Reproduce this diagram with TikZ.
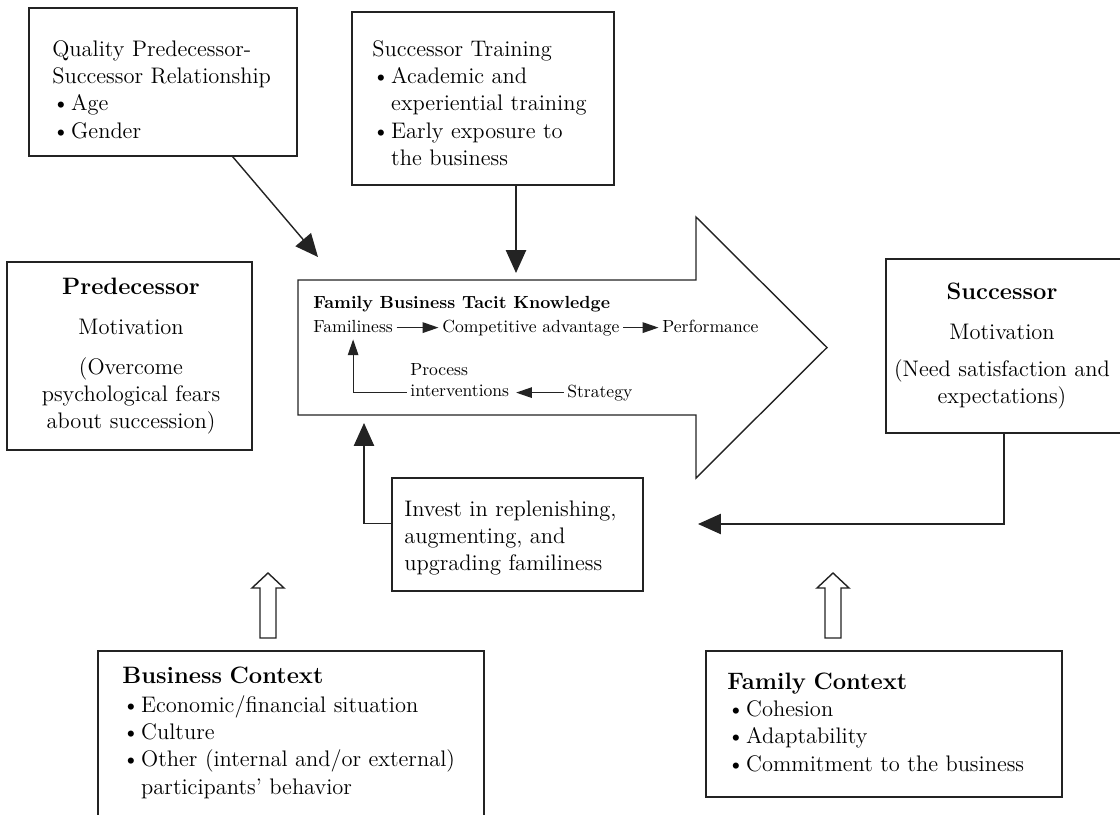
\documentclass[tikz,border=0pt]{standalone}
\usepackage{fontspec}
\usepackage{tikz}
\usetikzlibrary{arrows.meta,fit}
\definecolor{linegray}{RGB}{35,35,35}
\newcommand{\bodyfont}{\fontsize{12.8}{15.6}\selectfont}
\newcommand{\headfont}{\fontsize{13.5}{15.6}\selectfont\bfseries}
\newcommand{\smallfont}{\fontsize{10}{12.4}\selectfont}
\newcommand{\bulitem}{\makebox[0.84em][l]{\textbullet}}
\newcommand{\bulgap}{\hspace*{0.84em}}

\tikzset{
  box/.style={draw=linegray, line width=0.9pt, inner sep=0pt},
  txt/.style={font=\bodyfont, anchor=base west, inner sep=0pt, text width=7cm, align=left},
  ctxt/.style={font=\bodyfont, anchor=base, inner sep=0pt, text width=4.6cm, align=center},
  small/.style={font=\smallfont, anchor=base west, inner sep=2pt, text height=7pt, text depth=2pt},
  link/.style={draw=linegray, line width=0.8pt, -{Triangle[length=13pt,width=11.5pt]}},
  slink/.style={draw=linegray, line width=0.7pt, -{Triangle[length=9pt,width=6pt]}},
  hollow/.style={draw=linegray, line width=0.8pt, fill=white}
}

\begin{document}
\begin{tikzpicture}[x=0.02cm, y=-0.02cm]
\useasboundingbox (0,0) rectangle (1120,815);

% TOP BOXES
\node[box, fit={(29,8) (297,156)}] (qual) {};
\node[txt] (qualtxt) at (52,56) {Quality Predecessor-\\Successor Relationship\\\bulitem Age\\\bulitem Gender};

\node[box, fit={(352,12) (614,185)}] (train) {};
\node[txt] (traintxt) at (372,56) {Successor Training\\\bulitem Academic and\\\bulgap experiential training\\\bulitem Early exposure to\\\bulgap the business};

% SIDE BOXES
\node[box, fit={(7,262) (252,450)}] (pred) {};
\node[ctxt] (predtxt) at (131,294) {{\headfont Predecessor}\\[7.4pt]Motivation\\[7pt](Overcome\\psychological fears\\about succession)};

\node[box, fit={(886,259) (1122,433)}] (succ) {};
\node[ctxt] (succtxt) at (1002,299) {{\headfont Successor}\\[7.4pt]Motivation\\[5.5pt](Need satisfaction and\\expectations)};

% BIG ARROW
\draw[hollow] (298,280) -- (696,280) -- (696,217) -- (827,347.5) -- (696,478) -- (696,415) -- (298,415) -- cycle;

\node[small, font=\smallfont\bfseries] (tacit) at (309.5,308) {Family Business Tacit Knowledge};
\node[small] (fam) at (309.5,332) {Familiness};
\node[small] (comp) at (438.5,332) {Competitive advantage};
\node[small] (perf) at (658.5,332) {Performance};
\node[font=\smallfont, anchor=base west, inner sep=2pt, text width=58pt, align=left] (proc) at (406.5,375) {Process\\interventions};
\node[small] (strat) at (563.5,397) {Strategy};

\draw[slink] (fam.east) -- (comp.west);
\draw[slink] (comp.east) -- (perf.west);
\draw[slink] (strat.west) -- (strat.west -| proc.east);
\draw[slink] (proc.west |- strat.west) -| (fam.south);

% BOTTOM BOXES
\node[box, fit={(392,478) (643,591)}] (invest) {};
\node[txt] (investtxt) at (404,516) {Invest in replenishing,\\augmenting, and\\upgrading familiness};

\node[box, fit={(98,651) (484,830)}] (busi) {};
\node[txt] (busitxt) at (122,683) {{\headfont Business Context}\\[1pt]\bulitem Economic/financial situation\\\bulitem Culture\\\bulitem Other (internal and/or external)\\\bulgap participants' behavior};

\node[box, fit={(706,651) (1062,797)}] (fami) {};
\node[txt] (famitxt) at (727,689) {{\headfont Family Context}\\\bulitem Cohesion\\\bulitem Adaptability\\\bulitem Commitment to the business};

% HOLLOW ARROWS
\draw[hollow] (268,573) -- (284,588) -- (276,588) -- (276,638) -- (260,638) -- (260,588) -- (252,588) -- cycle;
\draw[hollow] (833,573) -- (849,588) -- (841,588) -- (841,638) -- (825,638) -- (825,588) -- (817,588) -- cycle;

% CONNECTORS
\coordinate (qtip) at (318,257);
\coordinate (ttip) at (516,273);
\coordinate (itip) at (364,423);
\coordinate (stip) at (698,524);
\draw[link] (qual.-47) -- (qtip);
\draw[link] (train.south -| ttip) -- (ttip);
\draw[link] (invest.175) -| (itip);
\draw[link] (succ.south) |- (stip);

\end{tikzpicture}
\end{document}
